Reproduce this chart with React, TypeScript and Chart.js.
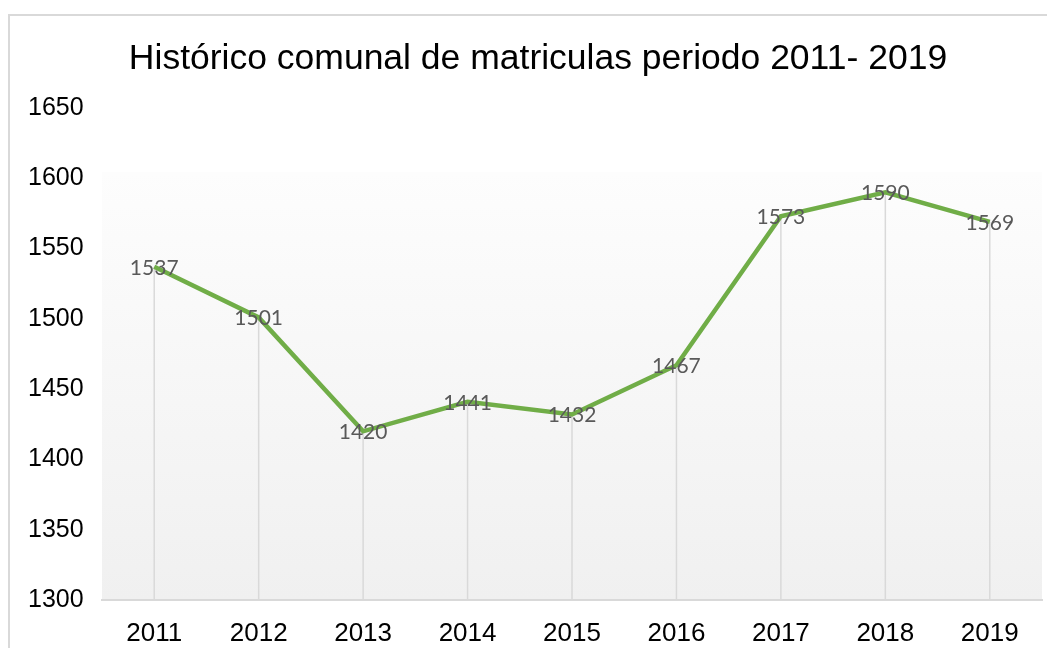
import React, { useEffect, useRef } from "react";
import { Chart, registerables } from "chart.js";

Chart.register(...registerables);

const title = "Histórico comunal de matriculas periodo 2011- 2019";
const years = ["2011", "2012", "2013", "2014", "2015", "2016", "2017", "2018", "2019"];
const matriculas = [1537, 1501, 1420, 1441, 1432, 1467, 1573, 1590, 1569];
const yMin = 1300;
const yMax = 1650;
const yStep = 50;

const framePlugin = {
  id: "frameAndBg",
  beforeDraw(chart: any) {
    const { ctx, chartArea, width, height } = chart;
    ctx.save();
    ctx.fillStyle = "#ffffff";
    ctx.fillRect(0, 0, width, height);
    ctx.strokeStyle = "#d9d9d9";
    ctx.lineWidth = 2;
    ctx.strokeRect(1, 7, width + 20, height + 20);
    const top = chartArea.top + (chartArea.bottom - chartArea.top) * 0.13;
    const g = ctx.createLinearGradient(0, top, 0, chartArea.bottom);
    g.addColorStop(0, "#fdfdfd");
    g.addColorStop(1, "#f0f0f0");
    ctx.fillStyle = g;
    ctx.fillRect(chartArea.left, top, chartArea.right - chartArea.left, chartArea.bottom - top);
    ctx.fillStyle = "#000000";
    ctx.font = "35.5px 'Liberation Sans', Arial, sans-serif";
    ctx.textAlign = "center";
    ctx.textBaseline = "alphabetic";
    ctx.fillText(title, 530, 61);
    ctx.restore();
  },
  beforeDatasetsDraw(chart: any) {
    const { ctx } = chart;
    const meta = chart.getDatasetMeta(0);
    const yScale = chart.scales.y;
    ctx.save();
    ctx.strokeStyle = "#d9d9d9";
    ctx.lineWidth = 1.5;
    meta.data.forEach((pt: any) => {
      ctx.beginPath();
      ctx.moveTo(pt.x, pt.y);
      ctx.lineTo(pt.x, yScale.bottom);
      ctx.stroke();
    });
    ctx.restore();
  },
  afterDatasetsDraw(chart: any) {
    const { ctx } = chart;
    const meta = chart.getDatasetMeta(0);
    const data = chart.data.datasets[0].data;
    ctx.save();
    ctx.fillStyle = "#595959";
    ctx.font = "21px Lato, 'Open Sans', sans-serif";
    ctx.textAlign = "center";
    ctx.textBaseline = "middle";
    meta.data.forEach((pt: any, i: number) => {
      ctx.fillText(String(data[i]), pt.x, pt.y + 1);
    });
    ctx.restore();
  },
};

export default function App() {
  const ref = useRef<HTMLCanvasElement | null>(null);
  useEffect(() => {
    if (!ref.current) return;
    const chart = new Chart(ref.current, {
      type: "line",
      data: {
        labels: years,
        datasets: [
          {
            data: matriculas,
            borderColor: "#70AD47",
            borderWidth: 4.5,
            pointRadius: 0,
            pointHoverRadius: 0,
            tension: 0,
            fill: false,
          },
        ],
      },
      options: {
        animation: false,
        responsive: true,
        maintainAspectRatio: false,
        layout: { padding: { left: 20, right: 5, top: 100, bottom: 0 } },
        plugins: {
          legend: { display: false },
          title: { display: false },
          tooltip: { enabled: false },
        },
        scales: {
          x: {
            type: "category",
            offset: true,
            grid: { display: false, drawTicks: false },
            border: { display: true, color: "#d9d9d9", width: 2 },
            ticks: {
              color: "#000000",
              padding: 18,
              maxRotation: 0,
              font: { family: "'Liberation Sans', Arial, sans-serif", size: 26 },
            },
            afterFit(scale: any) {
              scale.height = 48;
            },
          },
          y: {
            min: yMin,
            max: yMax,
            grid: { display: false, drawTicks: false },
            border: { display: false },
            ticks: {
              stepSize: yStep,
              color: "#000000",
              crossAlign: "far",
              padding: 0,
              callback: (v: any) => String(v),
              font: { family: "'Liberation Sans', Arial, sans-serif", size: 25 },
            },
            afterFit(scale: any) {
              scale.width = 74;
            },
          },
        },
      },
      plugins: [framePlugin],
    });
    return () => chart.destroy();
  }, []);
  return (
    <div style={{ width: 1039, height: 640, position: "relative" }}>
      <canvas ref={ref} />
    </div>
  );
}
